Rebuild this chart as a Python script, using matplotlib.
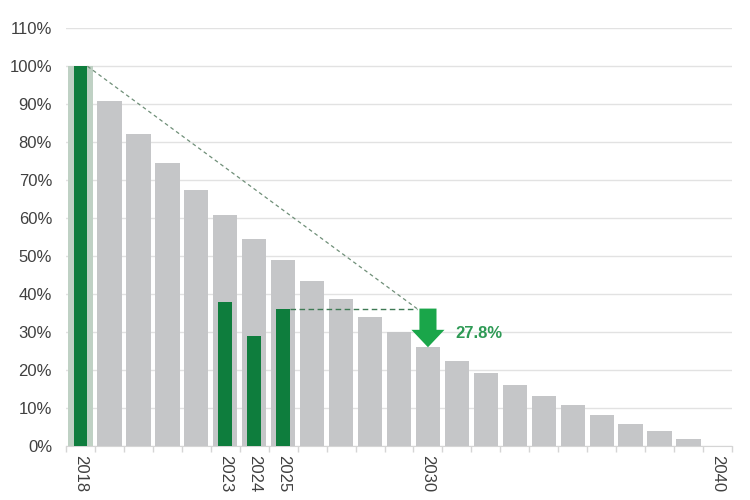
import matplotlib
matplotlib.use("Agg")
import matplotlib.pyplot as plt
import numpy as np

years = list(range(2018, 2041))
gray_values = [100, 90.7, 82.2, 74.5, 67.3, 60.7, 54.5, 48.8, 43.5, 38.5, 34.0, 29.9,
               25.9, 22.4, 19.1, 16.0, 13.0, 10.6, 8.1, 5.7, 3.7, 1.7, 0.0]
green_years = [2018, 2023, 2024, 2025]
green_values = [100, 37.8, 29.0, 36.1]
labeled_years = [2018, 2023, 2024, 2025, 2030, 2040]
target_year = 2030
reduction_label = "27.8%"
y_ticks = list(range(0, 111, 10))

plt.rcParams['font.family'] = ['Liberation Sans', 'DejaVu Sans']

fig = plt.figure(figsize=(7.5, 5), dpi=100)
ax = fig.add_axes([66/750, 1-445.5/500, (732-66)/750, (445.5-28.3)/500])

x = np.arange(len(years))
gray_w = 0.84
green_w = 0.48
gray_colors = ['#bfd1c4' if y == 2018 else '#c5c6c8' for y in years]
ax.bar(x, gray_values, width=gray_w, color=gray_colors, zorder=2)
gx = np.array([years.index(y) for y in green_years])
ax.bar(gx, green_values, width=green_w, color='#0e7d3d', zorder=3)

# annotation lines
i0 = years.index(2018)
i25 = years.index(2025)
it = years.index(target_year)
end_x = it - 0.38
level = green_values[green_years.index(2025)]
ax.plot([i0 + green_w/2, end_x], [green_values[0], level], color='#6f8f78',
        lw=0.9, dashes=(3, 2.5), zorder=4)
ax.plot([i25 + green_w/2, end_x], [level, level], color='#3f7a55',
        lw=1.0, dashes=(4, 2.5), zorder=4)
ax.arrow(it, level, 0, gray_values[it] - level, width=0.59, head_width=1.14,
         head_length=4.6, length_includes_head=True, color='#1aa64a', lw=0, zorder=5)
ax.text(it + 0.95, 29.6, reduction_label, color='#2e9a55', fontsize=12,
        fontweight='bold', va='center', ha='left', zorder=6)

ax.set_xlim(-0.5, len(years) - 0.5)
ax.set_ylim(0, 110)
ax.set_yticks(y_ticks)
ax.set_yticklabels([f"{v}%" for v in y_ticks], fontsize=12, color='#404040')
ax.yaxis.grid(True, color='#e2e2e2', lw=1, zorder=0)
ax.tick_params(axis='y', length=0, pad=10)

ax.set_xticks([years.index(y) for y in labeled_years])
ax.set_xticklabels([str(y) for y in labeled_years], rotation=270, fontsize=12,
                   color='#404040')
ax.tick_params(axis='x', which='major', length=0, pad=7)
ax.set_xticks(np.arange(len(years) + 1) - 0.5, minor=True)
ax.tick_params(axis='x', which='minor', length=4, color='#d5d5d5', width=1)

for s in ['top', 'right', 'left']:
    ax.spines[s].set_visible(False)
ax.spines['bottom'].set_color('#d5d5d5')
ax.set_axisbelow(True)

fig.savefig('out.png', dpi=100)
